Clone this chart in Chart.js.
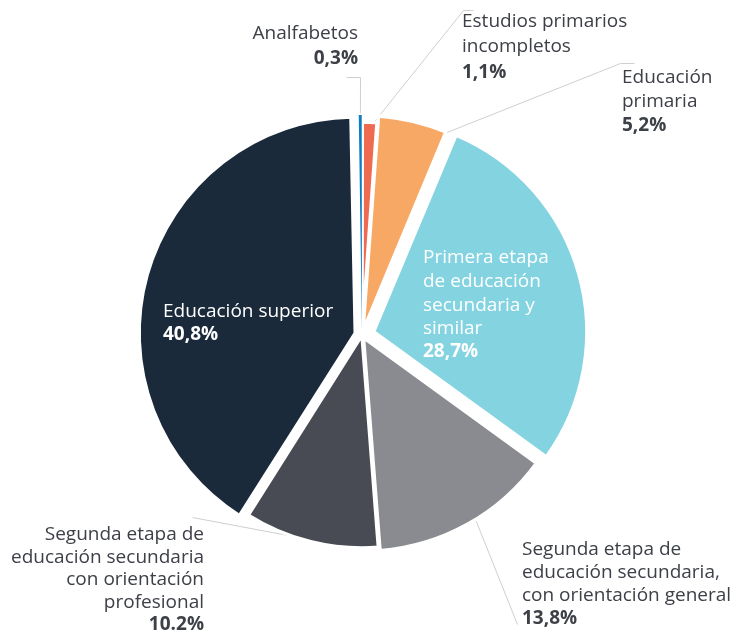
<!DOCTYPE html>
<html><head><meta charset="utf-8">
<script src="https://cdn.jsdelivr.net/npm/chart.js@4.4.0/dist/chart.umd.min.js"></script>
<style>html,body{margin:0;padding:0;background:#fff}#wrap{width:741px;height:633px;position:relative}</style>
</head><body><div id="wrap"><canvas id="c"></canvas></div>
<script>
const categories = ['Analfabetos', 'Estudios primarios incompletos', 'Educación primaria',
  'Primera etapa de educación secundaria y similar',
  'Segunda etapa de educación secundaria, con orientación general',
  'Segunda etapa de educación secundaria con orientación profesional',
  'Educación superior'];
const values = [0.3, 1.1, 5.2, 28.7, 13.8, 10.2, 40.8];
const valueLabels = ['0,3%', '1,1%', '5,2%', '28,7%', '13,8%', '10.2%', '40,8%'];
const labelLines = [
  ['Analfabetos'],
  ['Estudios primarios', 'incompletos'],
  ['Educación', 'primaria'],
  ['Primera etapa', 'de educación', 'secundaria y', 'similar'],
  ['Segunda etapa de', 'educación secundaria,', 'con orientación general'],
  ['Segunda etapa de', 'educación secundaria', 'con orientación', 'profesional'],
  ['Educación superior']
];
const colors = ['#0f7dc2', '#ee6a50', '#f8a865', '#84d3e1', '#898b90', '#484b54', '#1a2a3b'];
const offsets = [14, 0, 16, 48, 12, 0, 28];

// label placement (style/layout only)
const labelLayout = [
  {x: 358, ys: [34, 59], align: 'right', color: '#3d4047', lead: {t: 0.5, r: 0.95, pts: [[360, 77], [346, 77]]}},
  {x: 462, ys: [22, 47, 73], align: 'left', color: '#3d4047', lead: {t: 0.7, r: 0.99, pts: [[463, 10], [473, 10]]}},
  {x: 622, ys: [78, 102, 126], align: 'left', color: '#3d4047', lead: {t: 0.8, r: 0.95, pts: [[620, 63], [634, 63]]}},
  {x: 423, ys: [258, 282, 306, 329, 352], align: 'left', color: '#ffffff'},
  {x: 522, ys: [550, 573, 596, 619], align: 'left', color: '#3d4047', lead: {t: 0.44, r: 0.95, pts: [[517, 624]]}},
  {x: 204, ys: [535, 558, 580, 603, 625], align: 'right', color: '#3d4047', lead: {t: 0.35, r: 0.99, pts: [[192, 517]]}},
  {x: 163, ys: [312, 335], align: 'left', color: '#ffffff'}
];

function arcPoint(chart, i, t, rf) {
  const el = chart.getDatasetMeta(0).data[i];
  const mid = (el.startAngle + el.endAngle) / 2;
  const d = (offsets[i] || 0) / 4;
  const a = el.startAngle + t * (el.endAngle - el.startAngle);
  const r = el.outerRadius * rf;
  return [el.x + Math.cos(mid) * d + Math.cos(a) * r, el.y + Math.sin(mid) * d + Math.sin(a) * r];
}

const leaderPlugin = {
  id: 'leaders',
  beforeDatasetsDraw(chart) {
    const ctx = chart.ctx;
    ctx.save();
    ctx.strokeStyle = '#cfcfcf';
    ctx.lineWidth = 1;
    labelLayout.forEach((L, i) => {
      if (!L.lead) return;
      const s = arcPoint(chart, i, L.lead.t, L.lead.r);
      ctx.beginPath();
      ctx.moveTo(s[0], s[1]);
      L.lead.pts.forEach(p => ctx.lineTo(p[0] + 0.5, p[1] + 0.5));
      ctx.stroke();
    });
    ctx.restore();
  },
  afterDatasetsDraw(chart) {
    const ctx = chart.ctx;
    // redraw the thinnest slice without border so it stays visible
    const el = chart.getDatasetMeta(0).data[0];
    const clone = Object.assign(Object.create(Object.getPrototypeOf(el)), el);
    clone.options = Object.assign({}, el.options, {borderWidth: 0});
    clone.draw(ctx);
    ctx.save();
    labelLayout.forEach((L, i) => {
      ctx.fillStyle = L.color;
      ctx.textAlign = L.align;
      ctx.textBaseline = 'middle';
      const lines = labelLines[i];
      lines.forEach((txt, k) => {
        ctx.font = '19px "Open Sans"';
        ctx.fillText(txt, L.x, L.ys[k]);
      });
      ctx.font = 'bold 19px "Open Sans"';
      ctx.fillText(valueLabels[i], L.x, L.ys[lines.length]);
    });
    ctx.restore();
  }
};

new Chart(document.getElementById('c'), {
  type: 'pie',
  data: {
    labels: categories,
    datasets: [{
      data: values,
      backgroundColor: colors,
      borderColor: '#ffffff',
      borderWidth: 3.5,
      offset: offsets
    }]
  },
  options: {
    responsive: true,
    maintainAspectRatio: false,
    animation: false,
    radius: 213,
    rotation: -1,
    layout: {padding: {left: 0, right: 17, top: 37, bottom: 0}},
    plugins: {legend: {display: false}, tooltip: {enabled: false}},
    events: []
  },
  plugins: [leaderPlugin]
});
</script>
</body></html>
